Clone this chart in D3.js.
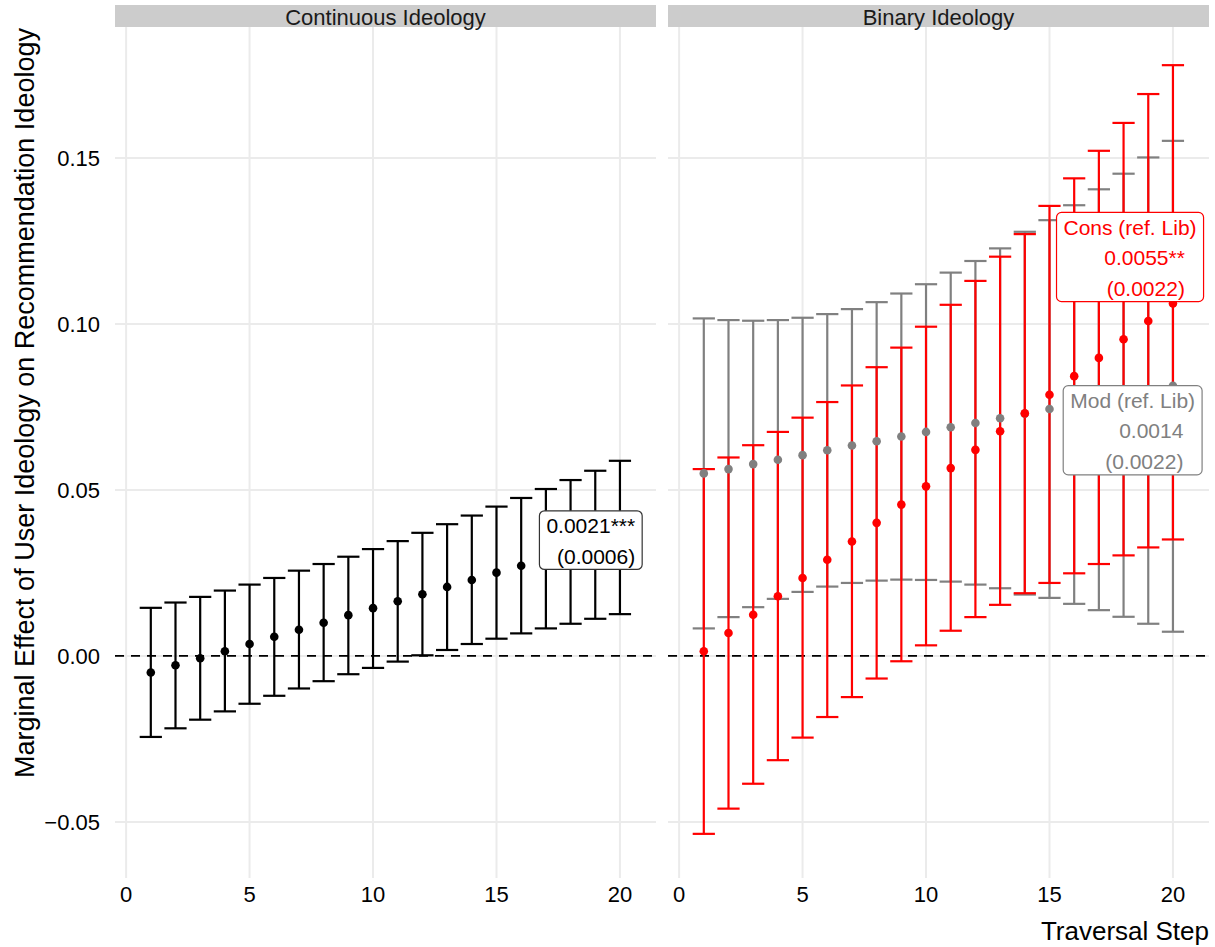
<!DOCTYPE html>
<html>
<head>
<meta charset="utf-8">
<script src="https://cdn.jsdelivr.net/npm/d3@7"></script>
<style>
  html, body { margin: 0; padding: 0; background: #ffffff; }
  svg { display: block; }
  text { font-family: "Liberation Sans", Arial, Helvetica, sans-serif; }
</style>
</head>
<body>
<svg id="chart" width="1215" height="947"></svg>
<script>
// ---------------- DATA ----------------
const steps = [1,2,3,4,5,6,7,8,9,10,11,12,13,14,15,16,17,18,19,20];

// Continuous ideology (black)
const contEst = [-0.0050,-0.0028,-0.0007,0.0014,0.0036,0.0058,0.0079,0.0100,0.0123,0.0144,0.0165,0.0186,0.0208,0.0229,0.0251,0.0272,0.0293,0.0314,0.0335,0.0356];
const contLo  = [-0.0244,-0.0218,-0.0192,-0.0167,-0.0144,-0.0120,-0.0098,-0.0076,-0.0055,-0.0036,-0.0017,0.0002,0.0018,0.0036,0.0052,0.0068,0.0083,0.0097,0.0112,0.0126];
const contHi  = [0.0145,0.0161,0.0178,0.0197,0.0215,0.0235,0.0257,0.0277,0.0299,0.0322,0.0346,0.0371,0.0397,0.0423,0.0450,0.0476,0.0503,0.0530,0.0558,0.0588];

// Binary ideology: Moderate (ref. Lib) – grey
const modEst = [0.0550,0.0563,0.0578,0.0591,0.0605,0.0620,0.0634,0.0647,0.0661,0.0675,0.0689,0.0702,0.0716,0.0730,0.0744,0.0758,0.0772,0.0786,0.0800,0.0814];
const modLo  = [0.0083,0.0117,0.0147,0.0172,0.0193,0.0209,0.0220,0.0227,0.0230,0.0229,0.0224,0.0215,0.0204,0.0185,0.0175,0.0157,0.0138,0.0118,0.0097,0.0073];
const modHi  = [0.1017,0.1012,0.1010,0.1012,0.1019,0.1030,0.1045,0.1066,0.1092,0.1120,0.1155,0.1190,0.1228,0.1278,0.1313,0.1358,0.1406,0.1453,0.1502,0.1552];

// Binary ideology: Conservative (ref. Lib) – red
const consEst = [0.0014,0.0069,0.0124,0.0180,0.0235,0.0290,0.0345,0.0401,0.0456,0.0511,0.0566,0.0621,0.0677,0.0731,0.0787,0.0843,0.0898,0.0954,0.1009,0.1062];
const consLo  = [-0.0536,-0.0460,-0.0385,-0.0314,-0.0246,-0.0184,-0.0124,-0.0068,-0.0016,0.0032,0.0076,0.0117,0.0154,0.0189,0.0220,0.0249,0.0277,0.0303,0.0327,0.0351];
const consHi  = [0.0563,0.0598,0.0635,0.0675,0.0718,0.0765,0.0815,0.0870,0.0929,0.0992,0.1058,0.1130,0.1203,0.1271,0.1356,0.1439,0.1522,0.1606,0.1693,0.1780];

const panelTitles = ["Continuous Ideology", "Binary Ideology"];
const xTicks = [0, 5, 10, 15, 20];
const yTicks = [-0.05, 0.00, 0.05, 0.10, 0.15];
const yTickLabels = ["\u22120.05", "0.00", "0.05", "0.10", "0.15"];
const xTitle = "Traversal Step";
const yTitle = "Marginal Effect of User Ideology on Recommendation Ideology";

// annotation labels: box right edge at x (data), vertical centre at y (data)
const contLabelLines = ["0.0021***", "(0.0006)"];
const consLabelLines = ["Cons (ref. Lib)", "0.0055**\u00A0\u00A0", "(0.0022)\u00A0\u00A0"];
const modLabelLines  = ["Mod (ref. Lib)", "0.0014\u00A0\u00A0", "(0.0022)\u00A0\u00A0"];
const contLabelPos = [20.9, 0.0349];
const consLabelPos = [21.24, 0.1202];
const modLabelPos  = [21.18, 0.0680];

// ---------------- LAYOUT ----------------
const svg = d3.select("#chart");
const panelTop = 27, panelBottom = 878;
const stripTop = 5;
const panelsX = [[115, 656], [668, 1209]];
const xDomain = [-0.45, 21.46];
const yDomain = [-0.0669, 0.1895];
const RED = "#FF0000", GREY = "#808080", BLACK = "#000000";
const FONT_TICK = 22, FONT_TITLE = 26, FONT_YTITLE = 27, FONT_STRIP = 22, FONT_LABEL = 21;

const y = d3.scaleLinear().domain(yDomain).range([panelBottom, panelTop]);

function makeSeries(est, lo, hi, color) {
  return steps.map((s, i) => ({ step: s, est: est[i], lo: lo[i], hi: hi[i], color }));
}

const panelSeries = [
  [makeSeries(contEst, contLo, contHi, BLACK)],
  [makeSeries(modEst, modLo, modHi, GREY), makeSeries(consEst, consLo, consHi, RED)]
];
const panelLabels = [
  [{ lines: contLabelLines, pos: contLabelPos, color: BLACK, border: "#333333" }],
  [{ lines: consLabelLines, pos: consLabelPos, color: RED, border: RED },
   { lines: modLabelLines, pos: modLabelPos, color: GREY, border: GREY }]
];

panelsX.forEach((px, pi) => {
  const x = d3.scaleLinear().domain(xDomain).range(px);
  const g = svg.append("g");

  // gridlines
  g.append("g").selectAll("line.vx").data(xTicks).join("line")
    .attr("x1", d => x(d)).attr("x2", d => x(d))
    .attr("y1", panelTop).attr("y2", panelBottom)
    .attr("stroke", "#EBEBEB").attr("stroke-width", 2);
  g.append("g").selectAll("line.hy").data(yTicks).join("line")
    .attr("x1", px[0]).attr("x2", px[1])
    .attr("y1", d => y(d)).attr("y2", d => y(d))
    .attr("stroke", "#EBEBEB").attr("stroke-width", 2);

  // zero reference line
  g.append("line")
    .attr("x1", px[0]).attr("x2", px[1])
    .attr("y1", y(0)).attr("y2", y(0))
    .attr("stroke", "#000").attr("stroke-width", 1.8)
    .attr("stroke-dasharray", "9,7");

  // strip
  g.append("rect").attr("x", px[0]).attr("y", stripTop)
    .attr("width", px[1] - px[0]).attr("height", panelTop - stripTop)
    .attr("fill", "#CCCCCC");
  g.append("text").attr("x", (px[0] + px[1]) / 2).attr("y", 25)
    .attr("text-anchor", "middle").attr("font-size", FONT_STRIP)
    .attr("fill", "#1a1a1a").text(panelTitles[pi]);

  // x tick labels
  g.append("g").selectAll("text").data(xTicks).join("text")
    .attr("x", d => x(d)).attr("y", 902)
    .attr("text-anchor", "middle").attr("font-size", FONT_TICK)
    .attr("fill", "#000").text(d => d);

  const halfCap = 0.45;
  const series = panelSeries[pi];
  // error bars
  series.forEach(ser => {
    const eg = g.append("g").attr("stroke", ser[0].color).attr("stroke-width", 2.2).attr("fill", "none");
    eg.selectAll("line.v").data(ser).join("line")
      .attr("x1", d => x(d.step)).attr("x2", d => x(d.step))
      .attr("y1", d => y(d.lo)).attr("y2", d => y(d.hi));
    eg.selectAll("line.t").data(ser).join("line").attr("class", "t")
      .attr("x1", d => x(d.step - halfCap)).attr("x2", d => x(d.step + halfCap))
      .attr("y1", d => y(d.hi)).attr("y2", d => y(d.hi));
    eg.selectAll("line.b").data(ser).join("line").attr("class", "b")
      .attr("x1", d => x(d.step - halfCap)).attr("x2", d => x(d.step + halfCap))
      .attr("y1", d => y(d.lo)).attr("y2", d => y(d.lo));
  });
  // points
  series.forEach(ser => {
    g.append("g").selectAll("circle").data(ser).join("circle")
      .attr("cx", d => x(d.step)).attr("cy", d => y(d.est))
      .attr("r", 4.3).attr("fill", d => d.color);
  });

  // labels
  panelLabels[pi].forEach(lab => {
    const lg = g.append("g");
    const n = lab.lines.length;
    const lineH = 30.7, pad = 7;
    const boxH = n * lineH - 2.8;
    const right = x(lab.pos[0]);
    const top = y(lab.pos[1]) - boxH / 2;
    const rect = lg.append("rect").attr("fill", "#fff")
      .attr("stroke", lab.border).attr("stroke-width", 1.2).attr("rx", 5).attr("ry", 5);
    const texts = lg.selectAll("text").data(lab.lines).join("text")
      .attr("x", right - pad)
      .attr("y", (d, i) => top + 14.8 + i * lineH)
      .attr("dy", "0.35em")
      .attr("text-anchor", "end")
      .attr("font-size", FONT_LABEL)
      .attr("fill", lab.color)
      .style("white-space", "pre")
      .text(d => d);
    let maxW = 0;
    texts.each(function () { maxW = Math.max(maxW, this.getComputedTextLength()); });
    const w = maxW + 2 * pad;
    rect.attr("x", right - w).attr("y", top).attr("width", w).attr("height", boxH);
  });
});

// y tick labels (left panel only)
svg.append("g").selectAll("text").data(yTicks).join("text")
  .attr("x", 100).attr("y", d => y(d)).attr("dy", "0.35em")
  .attr("text-anchor", "end").attr("font-size", FONT_TICK)
  .attr("fill", "#000").text((d, i) => yTickLabels[i]);

// axis titles
svg.append("text").attr("x", 1209).attr("y", 940)
  .attr("text-anchor", "end").attr("font-size", FONT_TITLE)
  .attr("fill", "#000").text(xTitle);
svg.append("text")
  .attr("transform", "translate(33.5, 403) rotate(-90)")
  .attr("text-anchor", "middle").attr("font-size", FONT_YTITLE)
  .attr("fill", "#000").text(yTitle);
</script>
</body>
</html>
